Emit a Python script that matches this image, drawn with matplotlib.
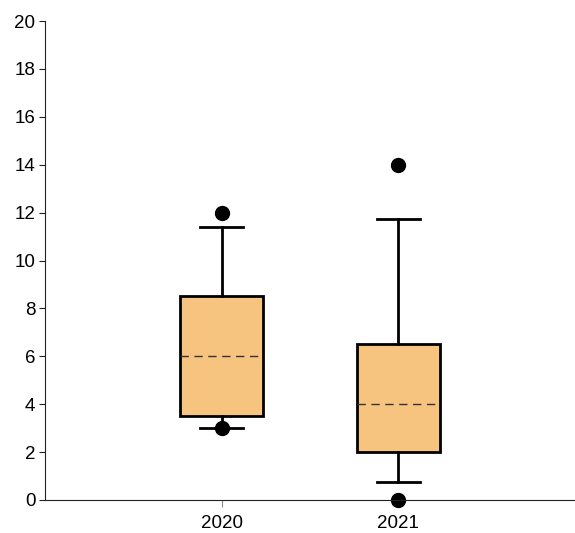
import matplotlib.pyplot as plt

years = ['2020', '2021']
q1 = [3.5, 2.0]
med = [6.0, 4.0]
q3 = [8.5, 6.5]
whislo = [3.0, 0.75]
whishi = [11.4, 11.75]
fliers = [[12.0, 3.0], [14.0, 0.0]]

plt.rcParams['font.family'] = ['Liberation Sans', 'DejaVu Sans']

fig = plt.figure(figsize=(5.75, 5.33), dpi=100)
ax = fig.add_axes([45 / 575, 33 / 533, 530 / 575, 479 / 533])

stats = []
for i, y in enumerate(years):
    stats.append({'label': y, 'q1': q1[i], 'med': med[i], 'q3': q3[i],
                  'whislo': whislo[i], 'whishi': whishi[i], 'fliers': fliers[i]})

bp = ax.bxp(stats, positions=[1, 2], widths=0.47, patch_artist=True,
            boxprops=dict(facecolor='#F7C47F', edgecolor='black', linewidth=2),
            medianprops=dict(color='#333333', linestyle=(0, (6, 4)), linewidth=1),
            whiskerprops=dict(color='black', linewidth=2),
            capprops=dict(color='black', linewidth=2),
            capwidths=0.24,
            flierprops=dict(marker='o', markerfacecolor='black', markeredgecolor='black',
                            markersize=10))
for f in bp['fliers']:
    f.set_clip_on(False)
for m in bp['medians']:
    m.set_zorder(3)

ax.set_xlim(0, 3)
ax.set_ylim(0, 20)
ax.set_yticks(range(0, 21, 2))
ax.spines['top'].set_visible(False)
ax.spines['right'].set_visible(False)
ax.spines['left'].set_color('#222222')
ax.spines['bottom'].set_color('#222222')
ax.tick_params(axis='y', labelsize=13.5, length=4, pad=3, color='#222222')
ax.tick_params(axis='x', labelsize=13.5, length=5, pad=6, color='#888888')

fig.savefig('out.png', dpi=100)
